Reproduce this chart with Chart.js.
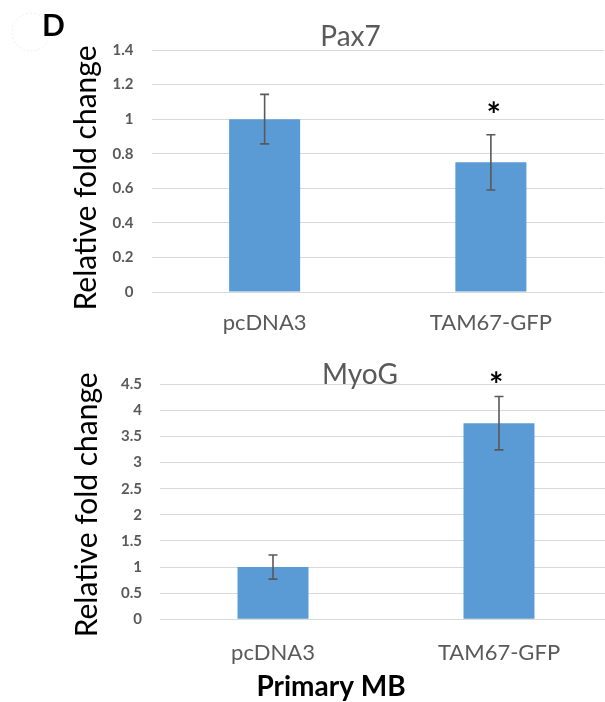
<!DOCTYPE html>
<html><head><meta charset="utf-8">
<script src="https://cdn.jsdelivr.net/npm/chart.js@4"></script>
<style>
html,body{margin:0;padding:0;background:#fff;overflow:hidden;width:605px;height:702px}
#top{position:absolute;left:0;top:0;width:605px;height:350px}
#bot{position:absolute;left:0;top:350px;width:620px;height:352px}
</style></head><body>
<div id="top"><canvas id="c1"></canvas></div>
<div id="bot"><canvas id="c2"></canvas></div>
<script>
// ---- data ----
const categories = ['pcDNA3', 'TAM67-GFP'];
const pax7Values = [1.0, 0.75];
const pax7Errors = [0.143, 0.16];
const pax7Significant = [false, true];
const myogValues = [1.0, 3.755];
const myogErrors = [0.23, 0.51];
const myogSignificant = [false, true];
const pax7TickValues = [0, 0.2, 0.4, 0.6, 0.8, 1, 1.2, 1.4];
const pax7TickLabels = ['0', '0.2', '0.4', '0.6', '0.8', '1', '1.2', '1.4'];
const myogTickValues = [0, 0.5, 1, 1.5, 2, 2.5, 3, 3.5, 4, 4.5];
const myogTickLabels = ['0', '0.5', '1', '1.5', '2', '2.5', '3', '3.5', '4', '4.5'];
const yAxisTitle = 'Relative fold change';
const xAxisTitle = 'Primary MB';
const pax7Title = 'Pax7';
const myogTitle = 'MyoG';
const panelLabel = 'D';

const FONT = 'Lato';
const GRAY = '#595959';

function drawCentered(ctx, text, cx, cy) {
  const m = ctx.measureText(text);
  const asc = m.actualBoundingBoxAscent, desc = m.actualBoundingBoxDescent;
  const l = m.actualBoundingBoxLeft, r = m.actualBoundingBoxRight;
  ctx.textAlign = 'left';
  ctx.textBaseline = 'alphabetic';
  ctx.fillText(text, cx - (r - l) / 2 - l * 0, cy + (asc - desc) / 2);
}

const annotPlugin = {
  id: 'annot',
  afterDatasetsDraw(chart, args, o) {
    const ctx = chart.ctx;
    const meta = chart.getDatasetMeta(0);
    const ys = chart.scales.y;
    const ds = chart.data.datasets[0];
    const area = chart.chartArea;
    ctx.save();
    ctx.strokeStyle = GRAY;
    ctx.lineWidth = 1.6;
    meta.data.forEach((bar, i) => {
      const v = ds.data[i], e = o.errors[i];
      const x = bar.x;
      const yt = ys.getPixelForValue(v + e), yb = ys.getPixelForValue(v - e);
      ctx.beginPath();
      ctx.moveTo(x, yt); ctx.lineTo(x, yb);
      ctx.moveTo(x - 4.5, yt); ctx.lineTo(x + 4.5, yt);
      ctx.moveTo(x - 4.5, yb); ctx.lineTo(x + 4.5, yb);
      ctx.stroke();
      if (o.sig[i]) {
        ctx.fillStyle = '#000';
        ctx.font = 'bold 34px ' + FONT;
        drawCentered(ctx, '*', x + o.starDx, yt - o.starGap);
      }
    });
    // y-axis title (rotated)
    ctx.save();
    ctx.fillStyle = '#000';
    ctx.font = '30px ' + FONT;
    ctx.translate(o.yTitleX, (area.top + area.bottom) / 2 + o.yTitleDy);
    ctx.rotate(-Math.PI / 2);
    ctx.textAlign = 'center';
    ctx.textBaseline = 'middle';
    ctx.fillText(yAxisTitle, 0, 0);
    ctx.restore();
    // chart title
    ctx.fillStyle = GRAY;
    ctx.font = '28px ' + FONT;
    ctx.textAlign = 'center';
    ctx.textBaseline = 'alphabetic';
    ctx.fillText(o.title, area.left + o.titleDx, o.titleBaseline);
    if (o.xTitle) {
      ctx.fillStyle = '#000';
      ctx.font = 'bold 28px ' + FONT;
      ctx.fillText(o.xTitle, area.left + o.xTitleDx, o.xTitleBaseline);
    }
    if (o.panel) {
      ctx.strokeStyle = '#ededed';
      ctx.lineWidth = 1;
      ctx.setLineDash([2, 2]);
      ctx.beginPath();
      ctx.arc(31, 32, 19, 0, Math.PI * 2);
      ctx.stroke();
      ctx.setLineDash([]);
      ctx.fillStyle = '#000';
      ctx.font = 'bold 30px ' + FONT;
      ctx.textAlign = 'left';
      ctx.fillText(o.panel, 42, 36);
    }
    ctx.restore();
  }
};

function makeChart(id, values, errors, sig, tickVals, tickLabels, cfg) {
  return new Chart(document.getElementById(id), {
    type: 'bar',
    data: {
      labels: categories,
      datasets: [{
        data: values,
        backgroundColor: '#5B9BD5',
        borderWidth: 0,
        categoryPercentage: 1,
        barPercentage: 0.314
      }]
    },
    options: {
      responsive: true,
      maintainAspectRatio: false,
      animation: false,
      layout: { padding: { top: cfg.padTop, right: cfg.padRight, left: 0, bottom: 0 } },
      plugins: {
        legend: { display: false },
        tooltip: { enabled: false },
        annot: Object.assign({ errors: errors, sig: sig }, cfg.annot)
      },
      scales: {
        x: {
          grid: { display: false, drawTicks: false },
          border: { display: false },
          ticks: { font: { family: FONT, size: 22 }, color: GRAY, padding: cfg.xPad, maxRotation: 0 },
          afterFit: s => { s.height = cfg.xHeight; }
        },
        y: {
          min: 0,
          max: tickVals[tickVals.length - 1],
          afterBuildTicks: s => { s.ticks = tickVals.map(v => ({ value: v })); },
          ticks: {
            font: { family: FONT, size: 15, weight: 'bold' },
            color: GRAY,
            padding: 18,
            callback: v => {
              let best = 0;
              tickVals.forEach((t, i) => { if (Math.abs(t - v) < Math.abs(tickVals[best] - v)) best = i; });
              return tickLabels[best];
            }
          },
          grid: { color: '#D9D9D9', lineWidth: 1, drawTicks: false },
          border: { display: false },
          afterFit: s => { s.width = cfg.yWidth; }
        }
      }
    },
    plugins: [annotPlugin]
  });
}

makeChart('c1', pax7Values, pax7Errors, pax7Significant, pax7TickValues, pax7TickLabels, {
  padTop: 50, padRight: 1, yWidth: 151.5, xHeight: 58, xPad: 18,
  annot: { title: pax7Title, titleDx: 199, titleBaseline: 46, starDx: 2.5, starGap: 28, panel: panelLabel,
           yTitleX: 86, yTitleDy: 7 }
});
makeChart('c2', myogValues, myogErrors, myogSignificant, myogTickValues, myogTickLabels, {
  padTop: 34.3, padRight: 8, yWidth: 160, xHeight: 82.7, xPad: 20,
  annot: { title: myogTitle, titleDx: 200, titleBaseline: 34, starDx: -3, starGap: 20,
           xTitle: xAxisTitle, xTitleDx: 171, xTitleBaseline: 346, yTitleX: 87.5, yTitleDy: 3 }
});
</script>
</body></html>
